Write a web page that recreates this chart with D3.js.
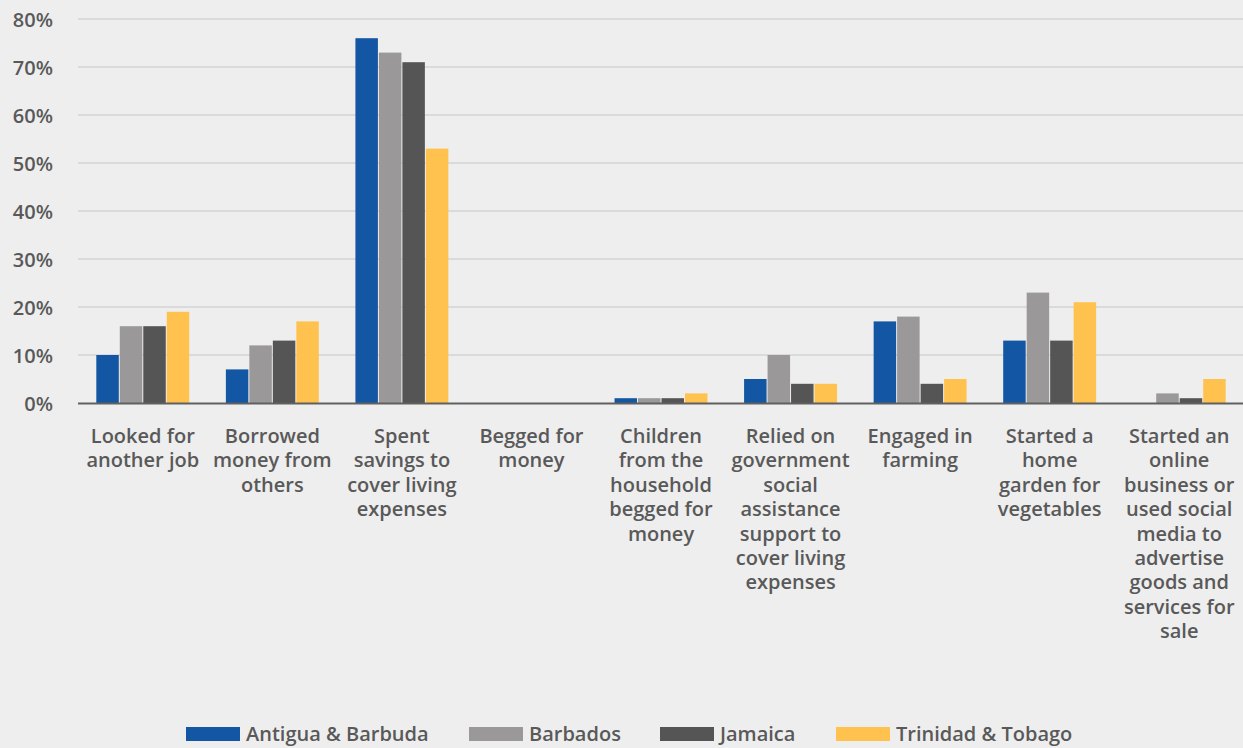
<!DOCTYPE html>
<html><head><meta charset="utf-8">
<script src="https://cdn.jsdelivr.net/npm/d3@7"></script>
<style>body{margin:0;background:#eeeeee;}svg{display:block;font-family:"Open Sans",sans-serif;}</style>
</head><body>
<svg id="c" width="1243" height="748"></svg>
<script>
const categories = [
  ["Looked for","another job"],
  ["Borrowed","money from","others"],
  ["Spent","savings to","cover living","expenses"],
  ["Begged for","money"],
  ["Children","from the","household","begged for","money"],
  ["Relied on","government","social","assistance","support to","cover living","expenses"],
  ["Engaged in","farming"],
  ["Started a","home","garden for","vegetables"],
  ["Started an","online","business or","used social","media to","advertise","goods and","services for","sale"]
];
const seriesNames = ["Antigua & Barbuda","Barbados","Jamaica","Trinidad & Tobago"];
const antigua  = [10, 7, 76, 0, 1, 5, 17, 13, 0];
const barbados = [16, 12, 73, 0, 1, 10, 18, 23, 2];
const jamaica  = [16, 13, 71, 0, 1, 4, 4, 13, 1];
const trinidad = [19, 17, 53, 0, 2, 4, 5, 21, 5];
const yTicks = [0,10,20,30,40,50,60,70,80];
const colors = ["#1356a3","#9a9899","#555555","#ffc24f"];

(function(){
const series = [antigua, barbados, jamaica, trinidad];
const svg = d3.select("#c");
const mLeft = 78, mRight = 1244, mTop = 19, mBottom = 403;
const FS = 20;
const x0 = d3.scaleBand().domain(d3.range(categories.length)).range([mLeft, mRight]).paddingInner(0.275).paddingOuter(0.1375);
const x1 = d3.scaleBand().domain(d3.range(series.length)).range([0, x0.bandwidth()]).padding(0);
const y = d3.scaleLinear().domain([0, 80]).range([mBottom, mTop]);

svg.append("g").selectAll("line").data(yTicks.filter(d=>d>0)).join("line")
  .attr("x1", mLeft).attr("x2", mRight).attr("y1", d=>y(d)).attr("y2", d=>y(d))
  .attr("stroke", "#c6c6c6").attr("stroke-width", 1);

const yAxis = d3.axisLeft(y).tickValues(yTicks).tickFormat(d=>d+"%").tickSize(0).tickPadding(0);
const ya = svg.append("g").attr("transform", `translate(53,0)`).call(yAxis);
ya.select(".domain").remove();
ya.selectAll("text").attr("font-size", FS).attr("font-weight", 600).attr("fill", "#595959").attr("dy","0.35em").attr("font-family", "Open Sans");

const g = svg.append("g");
categories.forEach((c, i) => {
  series.forEach((s, j) => {
    const v = s[i];
    if (v <= 0) return;
    g.append("rect")
      .attr("x", x0(i) + x1(j) + 0.5)
      .attr("width", x1.bandwidth() - 1)
      .attr("y", y(v))
      .attr("height", y(0) - y(v))
      .attr("fill", colors[j]);
  });
});

svg.append("line").attr("x1", mLeft).attr("x2", mRight).attr("y1", y(0)+0.5).attr("y2", y(0)+0.5)
  .attr("stroke", "#606060").attr("stroke-width", 2);

const xl = svg.append("g");
categories.forEach((lines, i) => {
  const cx = x0(i) + x0.bandwidth()/2;
  const t = xl.append("text")
    .attr("x", cx).attr("y", 443)
    .attr("text-anchor", "middle")
    .attr("font-size", FS).attr("font-weight", 600).attr("fill", "#595959");
  lines.forEach((ln, k) => {
    t.append("tspan").attr("x", cx).attr("dy", k === 0 ? 0 : 24.4).text(ln);
  });
});

const legX = [186, 469, 660, 836];
const lg = svg.append("g");
seriesNames.forEach((n, j) => {
  lg.append("rect").attr("x", legX[j]).attr("y", 727).attr("width", 54).attr("height", 14).attr("fill", colors[j]);
  lg.append("text").attr("x", legX[j] + 60).attr("y", 734).attr("dy", "0.35em")
    .attr("font-size", FS).attr("font-weight", 600).attr("fill", "#595959").text(n);
});
})();
</script>
</body></html>
